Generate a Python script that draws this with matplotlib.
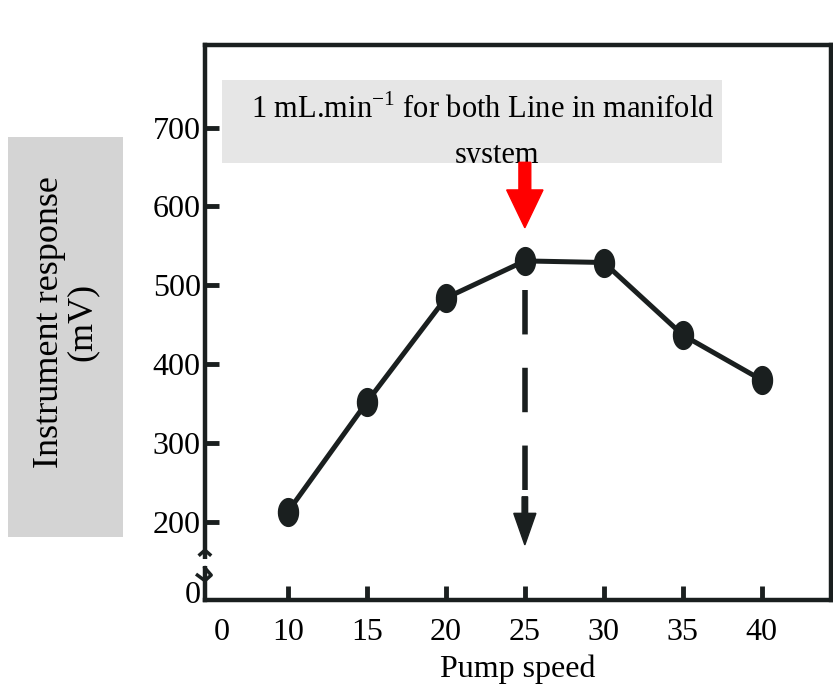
import matplotlib.pyplot as plt
from matplotlib.patches import Rectangle, FancyArrow
from matplotlib.transforms import Bbox, TransformedBbox
import numpy as np

# данные
pump_speed = [10, 15, 20, 25, 30, 35, 40]
response = [213, 352, 484, 531, 529, 437, 380]

x_ticks = [10, 15, 20, 25, 30, 35, 40]
y_ticks = [200, 300, 400, 500, 600, 700]
# разрывы осей: подпись "0" стоит не на своём месте
x_zero_pos = 5.8
y_zero_pos = 111

plt.rcParams['font.family'] = ['Liberation Serif', 'DejaVu Serif']
plt.rcParams['mathtext.fontset'] = 'custom'
plt.rcParams['mathtext.rm'] = 'Liberation Serif'

ink = '#1a1f1f'

fig = plt.figure(figsize=(8.33, 6.89), dpi=100)
ax = fig.add_axes([0.246, 0.129, 0.752, 0.806])

# овальный маркер (вытянут по вертикали)
ang = np.linspace(0, 2 * np.pi, 40)
oval = np.column_stack([0.72 * np.cos(ang), np.sin(ang)])

ax.plot(pump_speed, response, '-', color=ink, linewidth=3.6, zorder=3)
ax.plot(pump_speed, response, linestyle='none', marker=oval, color=ink,
        markersize=20, zorder=4)

ax.set_xlim(4.75, 44.4)
ax.set_ylim(101, 805)

ax.set_xticks([x_zero_pos] + x_ticks)
ax.set_xticklabels(['0'] + [str(v) for v in x_ticks])
ax.set_yticks([y_zero_pos] + y_ticks)
ax.set_yticklabels(['0'] + [str(v) for v in y_ticks])
ax.tick_params(axis='both', direction='in', length=10, width=3.5, color=ink,
               labelsize=23)
ax.tick_params(axis='x', pad=13)
ax.tick_params(axis='y', pad=3)
# у "0" нет засечки
ax.xaxis.get_major_ticks()[0].tick1line.set_visible(False)
ax.yaxis.get_major_ticks()[0].tick1line.set_visible(False)

for s in ax.spines.values():
    s.set_linewidth(3.2)
    s.set_color(ink)

ax.set_xlabel('Pump speed', fontsize=23, labelpad=5)

# разрыв оси y
ax.plot([-0.06, 0.05], [0.068, 0.068], transform=ax.transAxes, color='white',
        linewidth=5, clip_on=False, zorder=5)
ax.plot([-0.012, 0.0, 0.01, 0.0], [0.045, 0.035, 0.045, 0.058],
        transform=ax.transAxes, color=ink, linewidth=2.5,
        clip_on=False, zorder=6)
ax.plot([-0.008, 0.0, 0.008], [0.082, 0.09, 0.082],
        transform=ax.transAxes, color=ink, linewidth=2.5,
        clip_on=False, zorder=6)

# подпись в сером блоке
bx0, by0, bw, bh = 222 / 833, 1 - 163 / 689, 500 / 833, 83 / 689
box = Rectangle((bx0, by0), bw, bh, transform=fig.transFigure,
                facecolor='#e6e6e6', edgecolor='none', zorder=5, clip_on=False)
ax.add_patch(box)
ax.text(483 / 833, 1 - 110 / 689, '1 mL.min$^{\\mathrm{-1}}$ for both Line in manifold',
        transform=fig.transFigure, ha='center', va='center', fontsize=22,
        zorder=6, clip_on=False)
t2 = ax.text(497 / 833, 1 - 156 / 689, 'system', transform=fig.transFigure,
             ha='center', va='center', fontsize=22, zorder=6)
t2.set_clip_on(True)
t2.set_clip_box(TransformedBbox(Bbox([[bx0, by0], [bx0 + bw, by0 + bh]]),
                                fig.transFigure))

# красная стрелка
ax.add_patch(FancyArrow(25, 656, 0, -83, width=0.75, head_width=2.3,
                        head_length=48, length_includes_head=True,
                        color='#ff0000', zorder=6, clip_on=False))

# пунктирная стрелка вниз
ax.plot([25, 25], [494, 232], linestyle=(0, (8, 6)), color=ink,
        linewidth=4, zorder=3)
ax.add_patch(FancyArrow(25, 232, 0, -61, width=0.35, head_width=1.4,
                        head_length=40, length_includes_head=True,
                        color=ink, zorder=3))

# подпись оси y на сером фоне
fig.patches.append(Rectangle((8 / 833, 1 - 537 / 689), 115 / 833, 400 / 689,
                             transform=fig.transFigure, facecolor='#d4d4d4',
                             edgecolor='none', zorder=0))
fig.text(66 / 833, 1 - 322 / 689, 'Instrument response\n(mV)', rotation=90,
         ha='center', va='center', fontsize=26, linespacing=1.0)

fig.savefig('out.png', dpi=100)
